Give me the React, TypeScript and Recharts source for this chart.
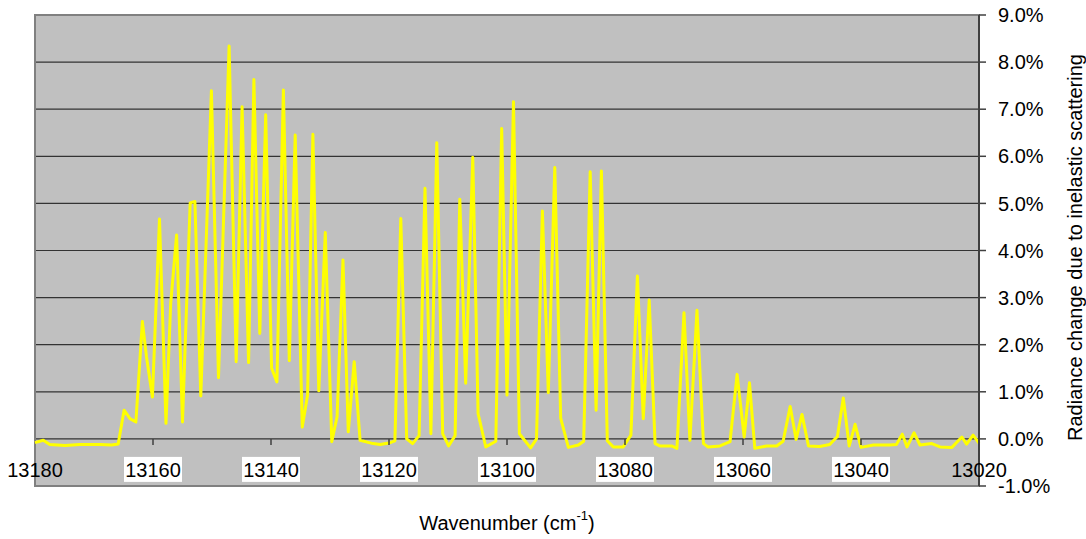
import { LineChart, Line, XAxis, YAxis, CartesianGrid, ReferenceArea, Label } from 'recharts'

// Wavenumber (cm-1) of each traced vertex, high to low
const wavenumbers = [
  13180, 13178.6, 13177.5, 13174.9, 13172.4, 13169.0, 13167.0, 13165.9, 13164.9, 13163.9,
  13162.9, 13161.8, 13161.1, 13160.1, 13158.9, 13157.8, 13157.0, 13156.0, 13155.0, 13153.7,
  13152.9, 13151.9, 13150.1, 13148.9, 13147.1, 13145.9, 13144.9, 13143.8, 13142.9, 13141.9,
  13140.9, 13139.9, 13139.0, 13137.9, 13136.9, 13135.9, 13134.7, 13133.8, 13132.9, 13131.9,
  13130.8, 13129.7, 13128.8, 13127.8, 13126.9, 13125.9, 13124.9, 13122.7, 13121.5, 13119.8,
  13119.0, 13118.0, 13117.0, 13116.0, 13114.9, 13113.9, 13112.9, 13111.9, 13110.9, 13109.9,
  13108.8, 13108.0, 13107.0, 13105.8, 13104.9, 13103.6, 13101.9, 13100.9, 13100.0, 13098.9,
  13097.9, 13096.0, 13095.0, 13094.0, 13093.0, 13091.9, 13090.9, 13089.6, 13087.9, 13087.0,
  13085.9, 13084.9, 13084.0, 13083.0, 13082.0, 13080.3, 13079.0, 13077.9, 13076.9, 13075.9,
  13074.9, 13074.1, 13072.1, 13071.2, 13070.0, 13069.0, 13067.8, 13066.7, 13065.9, 13063.9,
  13062.2, 13061.0, 13059.8, 13058.9, 13058.0, 13056.0, 13054.3, 13053.2, 13052.0, 13051.0,
  13050.0, 13048.9, 13047.0, 13045.3, 13044.0, 13043.0, 13042.0, 13041.0, 13040.0, 13037.9,
  13035.1, 13034.0, 13033.0, 13032.2, 13031.0, 13030.0, 13028.0, 13026.6, 13024.6, 13022.9,
  13022.1, 13021.0, 13020.0,
]

// Radiance change (%) at each wavenumber above
const radiance = [
  -0.08, -0.03, -0.12, -0.14, -0.12, -0.12, -0.13, -0.11, 0.61, 0.43,
  0.36, 2.49, 1.74, 0.89, 4.67, 0.33, 2.88, 4.33, 0.36, 5.01,
  5.04, 0.91, 7.39, 1.3, 8.34, 1.64, 7.05, 1.62, 7.63, 2.24,
  6.88, 1.5, 1.21, 7.41, 1.66, 6.45, 0.25, 0.93, 6.47, 1.02,
  4.38, -0.06, 0.47, 3.8, 0.15, 1.64, -0.03, -0.1, -0.12, -0.08,
  -0.04, 4.68, 0.0, -0.1, 0.07, 5.32, 0.11, 6.29, 0.11, -0.15,
  0.07, 5.09, 1.18, 5.98, 0.54, -0.17, -0.05, 6.59, 0.93, 7.16,
  0.11, -0.19, 0.0, 4.84, 0.98, 5.76, 0.44, -0.18, -0.13, -0.05,
  5.67, 0.61, 5.69, -0.04, -0.17, -0.17, 0.08, 3.46, 0.43, 2.95,
  -0.1, -0.15, -0.15, -0.2, 2.68, -0.03, 2.73, -0.1, -0.17, -0.15,
  -0.06, 1.37, 0.04, 1.19, -0.2, -0.15, -0.15, -0.05, 0.69, -0.01,
  0.52, -0.15, -0.16, -0.12, 0.05, 0.87, -0.15, 0.31, -0.18, -0.13,
  -0.13, -0.12, 0.1, -0.17, 0.13, -0.13, -0.1, -0.17, -0.18, 0.04,
  -0.11, 0.08, -0.09,
]

const xTicks = [13180, 13160, 13140, 13120, 13100, 13080, 13060, 13040, 13020]
const yTicks = [-1, 0, 1, 2, 3, 4, 5, 6, 7, 8, 9]

const data = wavenumbers.map((w, i) => ({ w, v: radiance[i] }))

const W = 1086
const H = 539
const TOP = 15
const LEFT = 35
const Y_AXIS_W = 107
const X_AXIS_H = 53
const PLOT_H = H - TOP - X_AXIS_H
// the x axis sits on the 0% line, which is 1/10 of the way up from -1%
const ZERO_Y = TOP + PLOT_H * 0.9
const FONT = '"Liberation Sans", Arial, sans-serif'

function XTick({ x, payload }: { x?: number; payload?: { value: number } }) {
  const v = payload?.value ?? 0
  const edge = v === 13180 || v === 13020
  return (
    <g>
      {!edge && <line x1={x} x2={x} y1={ZERO_Y} y2={ZERO_Y + 6} stroke="#404040" strokeWidth={1.5} />}
      {!edge && <rect x={(x ?? 0) - 29} y={ZERO_Y + 18} width={58} height={25} fill="#ffffff" />}
      <text x={x} y={ZERO_Y + 31} textAnchor="middle" dominantBaseline="central"
        fontSize={20} fontFamily={FONT} fill="#000">{v}</text>
    </g>
  )
}

function XTitle({ viewBox }: any) {
  const cx = viewBox.x + viewBox.width / 2
  const cy = viewBox.y + 37
  return (
    <text x={cx} y={cy} textAnchor="middle" dominantBaseline="central" fontSize={20} fontFamily={FONT} fill="#000">
      Wavenumber (cm<tspan dy={-8} fontSize={13}>-1</tspan><tspan dy={8}>)</tspan>
    </text>
  )
}

function YTitle({ viewBox }: any) {
  const cx = viewBox.x + 96
  const cy = viewBox.y + viewBox.height / 2 - 3
  return (
    <text x={cx} y={cy} transform={`rotate(-90 ${cx} ${cy})`} textAnchor="middle" dominantBaseline="central"
      fontSize={20} fontFamily={FONT} fill="#000">
      Radiance change due to inelastic scattering
    </text>
  )
}

export default function App() {
  return (
    <div style={{ position: 'fixed', left: 0, top: 0, width: W, height: H, background: '#fff', fontFamily: FONT }}>
      <LineChart width={W} height={H} data={data} margin={{ top: TOP, right: 0, bottom: 0, left: LEFT }}>
        <CartesianGrid vertical={false} fill="#C0C0C0" stroke="#333333" strokeWidth={1.2} />
        <ReferenceArea x1={13180} x2={13020} y1={-1} y2={9} fill="none" stroke="#808080" strokeWidth={2} />
        <XAxis type="number" dataKey="w" domain={[13020, 13180]} reversed ticks={xTicks} interval={0}
          height={X_AXIS_H} axisLine={false} tickLine={false} tick={<XTick />}>
          <Label content={<XTitle />} />
        </XAxis>
        <YAxis orientation="right" type="number" domain={[-1, 9]} ticks={yTicks} interval={0} width={Y_AXIS_W}
          axisLine={{ stroke: '#404040', strokeWidth: 2 }} tickLine={{ stroke: '#404040', strokeWidth: 1.5 }}
          tickSize={7} tickMargin={12} tickFormatter={(v: number) => `${v.toFixed(1)}%`}
          tick={{ fill: '#000', fontSize: 20, fontFamily: FONT }}>
          <Label content={<YTitle />} />
        </YAxis>
        <Line type="linear" dataKey="v" stroke="#FFFF00" strokeWidth={3} strokeLinejoin="round"
          dot={false} isAnimationActive={false} />
      </LineChart>
    </div>
  )
}
